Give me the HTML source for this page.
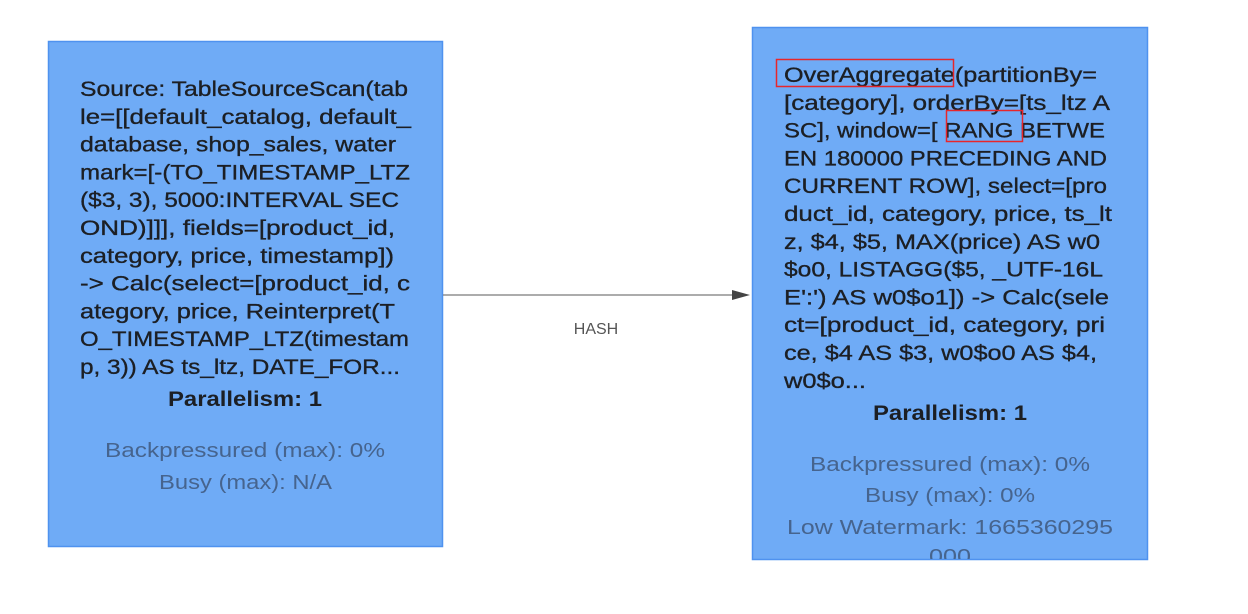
<!DOCTYPE html>
<html><head><meta charset="utf-8"><style>
html,body{margin:0;padding:0;background:#fff;width:1248px;height:614px;overflow:hidden}
svg{display:block}
text{font-family:"Liberation Sans",sans-serif;}
.t{font-size:21.5px;fill:#1c1f24;stroke:#1c1f24;stroke-width:0.35}
.b{font-size:21px;font-weight:bold;fill:#1c1f24}
.g{font-size:20.5px;fill:#46648e}
</style></head><body>
<svg width="1248" height="614" xmlns="http://www.w3.org/2000/svg">
<defs><clipPath id="c2"><rect x="752" y="27" width="396" height="532"/></clipPath></defs>
<rect x="48.5" y="41.5" width="394" height="505" fill="#6fabf6" stroke="#4f92ef" stroke-width="1.5"/>
<rect x="752.5" y="27.5" width="395" height="532" fill="#6fabf6" stroke="#4f92ef" stroke-width="1.5"/>
<line x1="443" y1="295" x2="736" y2="295" stroke="#7a7a7a" stroke-width="1.3"/>
<polygon points="732,290 750,295 732,300" fill="#444"/>
<text x="596" y="334" font-size="16" fill="#555" text-anchor="middle" font-family="Liberation Sans,sans-serif">HASH</text>

<g class="t">
<text x="80" y="96" textLength="328" lengthAdjust="spacingAndGlyphs">Source: TableSourceScan(tab</text>
<text x="80" y="123.8" textLength="331" lengthAdjust="spacingAndGlyphs">le=[[default_catalog, default_</text>
<text x="80" y="151.6" textLength="316" lengthAdjust="spacingAndGlyphs">database, shop_sales, water</text>
<text x="80" y="179.4" textLength="330" lengthAdjust="spacingAndGlyphs">mark=[-(TO_TIMESTAMP_LTZ</text>
<text x="80" y="207.2" textLength="319" lengthAdjust="spacingAndGlyphs">($3, 3), 5000:INTERVAL SEC</text>
<text x="80" y="235" textLength="315" lengthAdjust="spacingAndGlyphs">OND)]]], fields=[product_id,</text>
<text x="80" y="262.8" textLength="314" lengthAdjust="spacingAndGlyphs">category, price, timestamp])</text>
<text x="80" y="290.6" textLength="330" lengthAdjust="spacingAndGlyphs">-&gt; Calc(select=[product_id, c</text>
<text x="80" y="318.4" textLength="315" lengthAdjust="spacingAndGlyphs">ategory, price, Reinterpret(T</text>
<text x="80" y="346.2" textLength="329" lengthAdjust="spacingAndGlyphs">O_TIMESTAMP_LTZ(timestam</text>
<text x="80" y="374" textLength="320" lengthAdjust="spacingAndGlyphs">p, 3)) AS ts_ltz, DATE_FOR...</text>
</g>
<text class="b" x="168" y="406" textLength="154" lengthAdjust="spacingAndGlyphs">Parallelism: 1</text>
<text class="g" x="105" y="457" textLength="280" lengthAdjust="spacingAndGlyphs">Backpressured (max): 0%</text>
<text class="g" x="159" y="489" textLength="173" lengthAdjust="spacingAndGlyphs">Busy (max): N/A</text>

<g class="t">
<text x="784" y="82" textLength="313" lengthAdjust="spacingAndGlyphs">OverAggregate(partitionBy=</text>
<text x="784" y="109.8" textLength="326" lengthAdjust="spacingAndGlyphs">[category], orderBy=[ts_ltz A</text>
<text x="784" y="137.6" textLength="321" lengthAdjust="spacingAndGlyphs">SC], window=[ RANG BETWE</text>
<text x="784" y="165.4" textLength="323" lengthAdjust="spacingAndGlyphs">EN 180000 PRECEDING AND</text>
<text x="784" y="193.2" textLength="323" lengthAdjust="spacingAndGlyphs">CURRENT ROW], select=[pro</text>
<text x="784" y="221" textLength="328" lengthAdjust="spacingAndGlyphs">duct_id, category, price, ts_lt</text>
<text x="784" y="248.8" textLength="316" lengthAdjust="spacingAndGlyphs">z, $4, $5, MAX(price) AS w0</text>
<text x="784" y="276.6" textLength="319" lengthAdjust="spacingAndGlyphs">$o0, LISTAGG($5, _UTF-16L</text>
<text x="784" y="304.4" textLength="325" lengthAdjust="spacingAndGlyphs">E':') AS w0$o1]) -&gt; Calc(sele</text>
<text x="784" y="332.2" textLength="321" lengthAdjust="spacingAndGlyphs">ct=[product_id, category, pri</text>
<text x="784" y="360" textLength="313" lengthAdjust="spacingAndGlyphs">ce, $4 AS $3, w0$o0 AS $4,</text>
<text x="784" y="387.8" textLength="82" lengthAdjust="spacingAndGlyphs">w0$o...</text>
</g>
<text class="b" x="873" y="420" textLength="154" lengthAdjust="spacingAndGlyphs">Parallelism: 1</text>
<text class="g" x="810" y="471" textLength="280" lengthAdjust="spacingAndGlyphs">Backpressured (max): 0%</text>
<text class="g" x="865" y="502" textLength="170" lengthAdjust="spacingAndGlyphs">Busy (max): 0%</text>
<text class="g" x="787" y="534" textLength="326" lengthAdjust="spacingAndGlyphs">Low Watermark: 1665360295</text>
<g clip-path="url(#c2)"><text class="g" x="929" y="563" textLength="42" lengthAdjust="spacingAndGlyphs">000</text></g>

<rect x="776.5" y="59.5" width="177" height="27" fill="none" stroke="#e8262b" stroke-width="1.5"/>
<rect x="946.5" y="110.5" width="76" height="31" fill="none" stroke="#e8262b" stroke-width="1.5"/>
</svg>
</body></html>
